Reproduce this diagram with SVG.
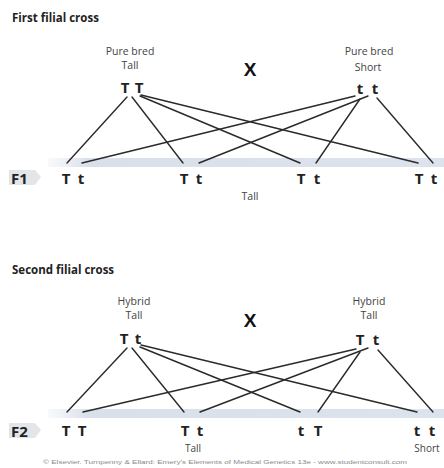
<svg xmlns="http://www.w3.org/2000/svg" width="444" height="468" viewBox="0 0 444 468">
<defs>
<linearGradient id="band" x1="0" y1="0" x2="1" y2="0">
<stop offset="0" stop-color="#e6ebf2" stop-opacity="0.3"/>
<stop offset="0.1" stop-color="#d9e0ea"/>
<stop offset="1" stop-color="#dde3ec"/>
</linearGradient>
</defs>
<style>
.title{font-family:"Open Sans","Liberation Sans",sans-serif;font-weight:bold;font-size:11.5px;fill:#222}
.lab{font-family:"Open Sans","Liberation Sans",sans-serif;font-size:10.5px;fill:#444;text-anchor:middle}
.sm{font-size:10px}
.al{font-family:"Open Sans","Liberation Sans",sans-serif;font-weight:bold;font-size:15px;fill:#222;text-anchor:middle}
.x{font-family:"Liberation Sans",sans-serif;font-weight:bold;font-size:19px;fill:#111;text-anchor:middle}
.tag{fill:#e3e5e9}
.band{fill:url(#band)}
.conn line{stroke:#2a2a2a;stroke-width:1.4;stroke-linecap:round}
.copy{font-family:"Liberation Sans",sans-serif;font-size:5.5px;fill:#8a8a8a}
</style>
<rect width="444" height="468" fill="#ffffff"/>
<text class="title" x="12" y="22">First filial cross</text>
<text class="title" x="12" y="274">Second filial cross</text>
<rect class="band" x="48" y="158" width="396" height="9"/>
<rect class="band" x="48" y="409" width="396" height="9"/>
<g id="connectors" class="conn">
<line x1="127" y1="97" x2="67" y2="163"/>
<line x1="132" y1="97" x2="183" y2="163"/>
<line x1="140" y1="96" x2="300" y2="163"/>
<line x1="141" y1="95" x2="418" y2="163"/>
<line x1="355" y1="96" x2="82" y2="163"/>
<line x1="368" y1="96" x2="199" y2="163"/>
<line x1="360" y1="99" x2="316" y2="163"/>
<line x1="377" y1="98" x2="433" y2="163"/>
<line x1="127" y1="348" x2="67" y2="412"/>
<line x1="132" y1="348" x2="184" y2="412"/>
<line x1="140" y1="347" x2="300" y2="412"/>
<line x1="141" y1="345" x2="417" y2="412"/>
<line x1="356" y1="349" x2="83" y2="412"/>
<line x1="368" y1="348" x2="200" y2="412"/>
<line x1="360" y1="352" x2="318" y2="412"/>
<line x1="378" y1="350" x2="433" y2="412"/>
</g>
<g id="p1-left">
<text class="lab" x="130" y="55">Pure bred</text>
<text class="lab" x="130" y="69">Tall</text>
<text class="al" x="125" y="93">T</text>
<text class="al" x="139" y="93">T</text>
</g>
<text class="x" x="250" y="76">X</text>
<g id="p1-right">
<text class="lab" x="369" y="55">Pure bred</text>
<text class="lab" x="368" y="71">Short</text>
<text class="al" x="360" y="94">t</text>
<text class="al" x="375" y="94">t</text>
</g>
<g id="f1-label">
<path class="tag" d="M9,170 H35 L41,177 L35,185 H9 Z"/>
<text class="title" style="font-size:15px" x="11" y="184">F1</text>
</g>
<g id="f1-1"><text class="al" x="66" y="184">T</text><text class="al" x="81" y="184">t</text></g>
<g id="f1-2"><text class="al" x="184" y="184">T</text><text class="al" x="199" y="184">t</text></g>
<g id="f1-3"><text class="al" x="301" y="184">T</text><text class="al" x="317" y="184">t</text></g>
<g id="f1-4"><text class="al" x="419" y="184">T</text><text class="al" x="434" y="184">t</text></g>
<text class="lab" x="250" y="200">Tall</text>
<g id="p2-left">
<text class="lab" x="134" y="305">Hybrid</text>
<text class="lab" x="134" y="319">Tall</text>
<text class="al" x="124" y="344">T</text>
<text class="al" x="138" y="344">t</text>
</g>
<text class="x" x="250" y="327">X</text>
<g id="p2-right">
<text class="lab" x="369" y="305">Hybrid</text>
<text class="lab" x="369" y="319">Tall</text>
<text class="al" x="360" y="345">T</text>
<text class="al" x="376" y="345">t</text>
</g>
<g id="f2-label">
<path class="tag" d="M9,423 H35 L41,430 L35,438 H9 Z"/>
<text class="title" style="font-size:15px" x="11" y="437">F2</text>
</g>
<g id="f2-1"><text class="al" x="66" y="436">T</text><text class="al" x="82" y="436">T</text></g>
<g id="f2-2"><text class="al" x="185" y="436">T</text><text class="al" x="200" y="436">t</text><text class="lab sm" x="193" y="452">Tall</text></g>
<g id="f2-3"><text class="al" x="301" y="436">t</text><text class="al" x="318" y="436">T</text></g>
<g id="f2-4"><text class="al" x="417" y="436">t</text><text class="al" x="432" y="436">t</text><text class="lab sm" x="427" y="452">Short</text></g>
<text class="copy" x="43" y="464" textLength="364" lengthAdjust="spacingAndGlyphs">© Elsevier. Turnpenny &amp; Ellard: Emery's Elements of Medical Genetics 13e - www.studentconsult.com</text>
</svg>
